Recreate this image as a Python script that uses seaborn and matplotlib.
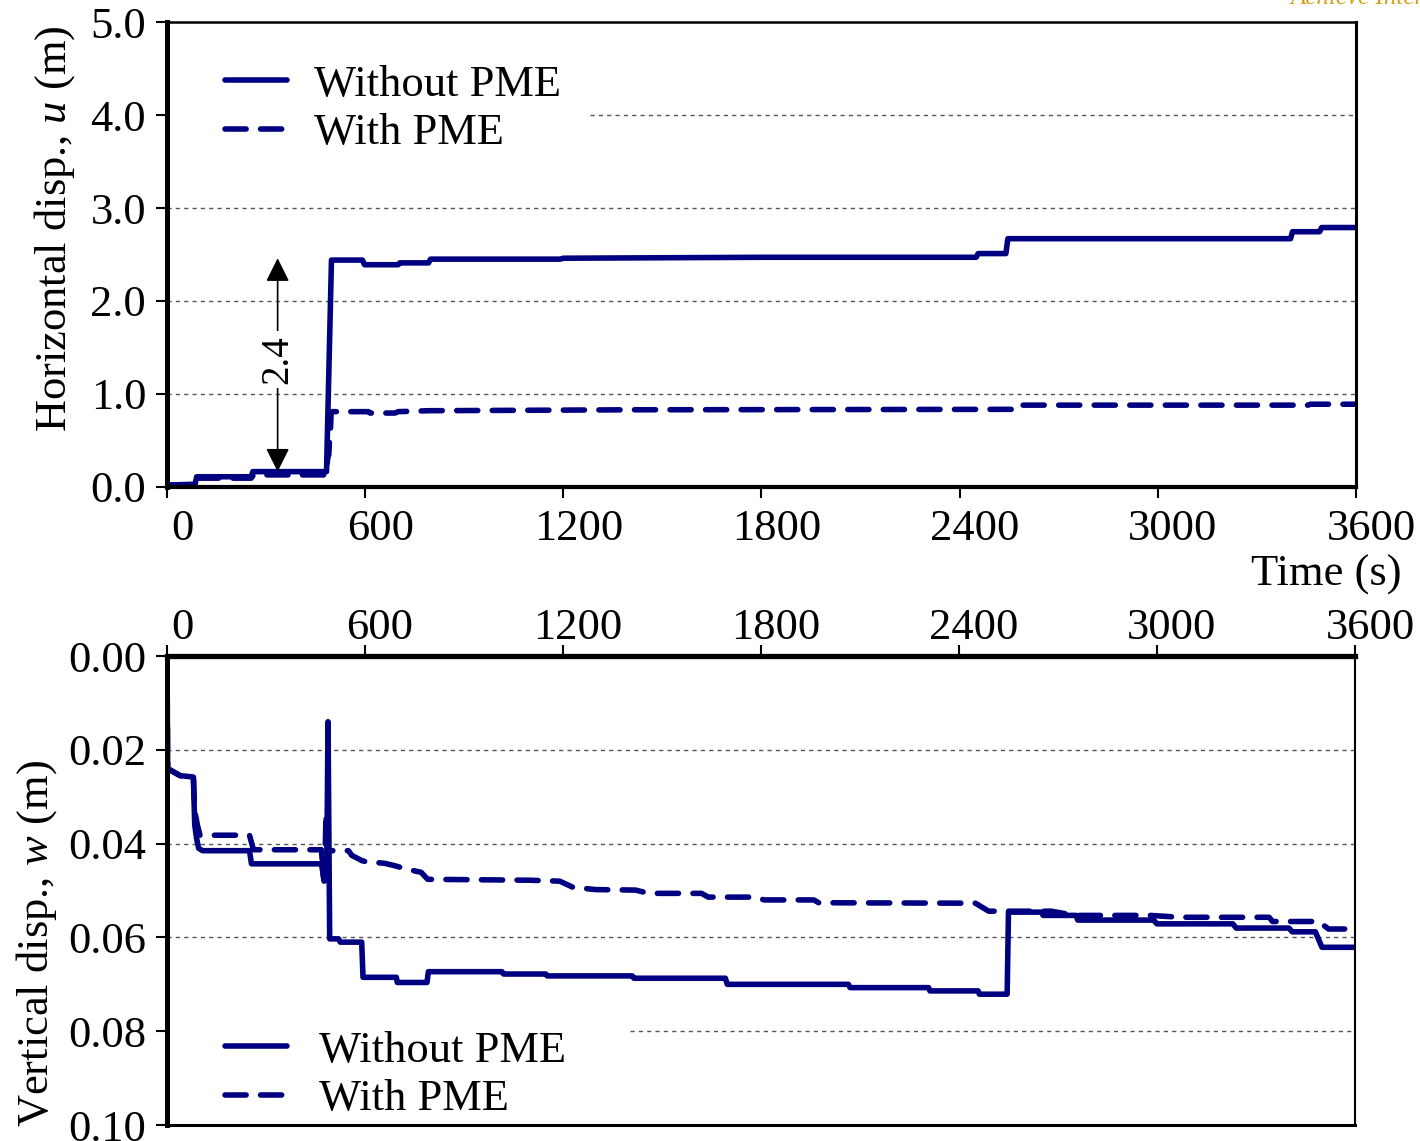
import matplotlib
matplotlib.use('Agg')
import matplotlib.pyplot as plt
from matplotlib.transforms import ScaledTranslation
import seaborn as sns

# time histories
t_u_without = [0, 85, 90, 255, 260, 483, 498, 592, 598, 700, 705, 792, 798, 1190, 1200, 1800,
               2450, 2456, 2540, 2546, 3402, 3408, 3490, 3496, 3600]
u_without = [0.02, 0.03, 0.11, 0.11, 0.165, 0.165, 2.44, 2.44, 2.39, 2.39, 2.41, 2.41, 2.45, 2.45, 2.46, 2.47,
             2.47, 2.51, 2.51, 2.67, 2.67, 2.745, 2.745, 2.79, 2.79]

t_u_with = [0, 85, 92, 255, 262, 483, 486, 490, 492, 495, 497, 500, 610, 615, 690, 700, 790, 1400,
            2560, 2567, 3455, 3462, 3600]
u_with = [0.02, 0.02, 0.095, 0.095, 0.13, 0.13, 0.3, 0.35, 0.5, 0.62, 0.8, 0.81, 0.81, 0.795, 0.795, 0.81, 0.82, 0.83,
          0.835, 0.88, 0.88, 0.89, 0.89]

t_w_without = [0, 2, 40, 80, 84, 90, 96, 108, 250, 256, 468, 472, 476, 480, 484, 488, 493, 520, 525, 590,
               594, 695, 698, 788, 792, 1015, 1020, 1148, 1152, 1410, 1415, 1692, 1698, 2065, 2070, 2308,
               2312, 2458, 2462, 2546, 2550, 2650, 2655, 2755, 2760, 2990, 3000, 3230, 3240, 3400, 3410,
               3480, 3500, 3600]
w_without = [0.0, 0.024, 0.0255, 0.0258, 0.036, 0.039, 0.041, 0.0415, 0.0415, 0.0443, 0.0443, 0.046, 0.048,
             0.043, 0.047, 0.014, 0.0603, 0.0603, 0.061, 0.061, 0.0685, 0.0685, 0.0696, 0.0696, 0.0673,
             0.0673, 0.0678, 0.0678, 0.0682, 0.0682, 0.0687, 0.0687, 0.070, 0.070, 0.0707, 0.0707, 0.0714,
             0.0714, 0.0721, 0.0721, 0.0546, 0.0546, 0.0553, 0.0553, 0.0563, 0.0563, 0.0571, 0.0571, 0.0580,
             0.0580, 0.0588, 0.0588, 0.0621, 0.0621]

t_w_with = [0, 2, 40, 80, 84, 92, 100, 250, 262, 468, 474, 478, 482, 486, 490, 550, 560, 590, 600, 660,
            690, 730, 770, 790, 1100, 1190, 1230, 1300, 1420, 1460, 1620, 1640, 1780, 1810, 1960, 1975,
            2450, 2490, 2680, 2750, 2980, 3070, 3340, 3350, 3490, 3520, 3600]
w_with = [0.0, 0.024, 0.0255, 0.0258, 0.033, 0.036, 0.0382, 0.0382, 0.0413, 0.0413, 0.047, 0.046, 0.0336,
          0.0475, 0.0415, 0.0415, 0.0425, 0.0436, 0.0438, 0.0442, 0.0447, 0.0455, 0.0461, 0.0476, 0.0478,
          0.048, 0.0493, 0.0498, 0.0499, 0.0506, 0.0506, 0.0514, 0.0514, 0.052, 0.052, 0.0526, 0.0527,
          0.0544, 0.0544, 0.0553, 0.0553, 0.0557, 0.0557, 0.0566, 0.0566, 0.0582, 0.0582]

time_ticks = [0, 600, 1200, 1800, 2400, 3000, 3600]
u_ticks = [0.0, 1.0, 2.0, 3.0, 4.0, 5.0]
w_ticks = [0.00, 0.02, 0.04, 0.06, 0.08, 0.10]
labels = ['Without PME', 'With PME']

sns.set_style('ticks')
plt.rcParams['font.family'] = ['Liberation Serif', 'DejaVu Serif']
plt.rcParams['mathtext.fontset'] = 'custom'
plt.rcParams['mathtext.rm'] = 'Liberation Serif'
plt.rcParams['mathtext.it'] = 'Liberation Serif:italic'
for k in ['text.color', 'axes.labelcolor', 'xtick.color', 'ytick.color', 'axes.edgecolor']:
    plt.rcParams[k] = 'black'

navy = '#000080'
lw = 4.0
dash = (0, (3.8, 2.6))
fs = 32

fig = plt.figure(figsize=(14.2, 11.41), dpi=100)
ax1 = fig.add_axes([0.1176, 0.5732, 0.8373, 0.4075])
ax2 = fig.add_axes([0.1176, 0.0140, 0.8366, 0.4110])


def draw_grid(ax, values, covered, start):
    for v in values:
        if v == covered:
            ax.axhline(v, xmin=start, color='#555555', lw=1.0, ls=(0, (3, 3)), zorder=0)
        else:
            ax.axhline(v, color='#555555', lw=1.0, ls=(0, (3, 3)), zorder=0)


def shift_labels(ax, dx_px):
    off = ScaledTranslation(dx_px / 100, 0, fig.dpi_scale_trans)
    for lab in ax.get_xticklabels():
        lab.set_transform(lab.get_transform() + off)


# ---- top: horizontal displacement
sns.lineplot(x=t_u_without, y=u_without, ax=ax1, color=navy, linewidth=lw, sort=False, estimator=None,
             solid_capstyle='round', label=labels[0])
sns.lineplot(x=t_u_with, y=u_with, ax=ax1, color=navy, linewidth=lw, sort=False, estimator=None,
             linestyle=dash, dash_capstyle='round', label=labels[1])
draw_grid(ax1, [1.0, 2.0, 3.0, 4.0], 4.0, (590 - 167) / 1189)
ax1.set_xlim(0, 3600)
ax1.set_ylim(0, 5)
ax1.set_xticks(time_ticks)
ax1.set_yticks(u_ticks)
ax1.set_yticklabels([f'{v:.1f}' for v in u_ticks])
ax1.tick_params(direction='out', length=8, width=1.5, labelsize=fs, pad=7, colors='black')
ax1.tick_params(axis='x', pad=8)
ax1.set_ylabel('Horizontal disp., $u$ (m)', fontsize=fs)
ax1.yaxis.set_label_coords(-0.076, 0.555)
for side, w in zip(['left', 'bottom', 'top', 'right'], [3.6, 3.0, 1.8, 2.2]):
    ax1.spines[side].set_visible(True)
    ax1.spines[side].set_linewidth(w)
    ax1.spines[side].set_color('black')
ax1.legend(loc='upper left', bbox_to_anchor=(0.049, 0.908), frameon=False, fontsize=fs,
           handlelength=1.4, handletextpad=0.6, labelspacing=0.19, borderpad=0, borderaxespad=0)
shift_labels(ax1, 15)

# 2.4 m arrow
ax1.annotate('', xy=(335, 2.46), xytext=(335, 0.165),
             arrowprops=dict(arrowstyle='<|-|>', color='black', lw=1.2, mutation_scale=36,
                             shrinkA=0, shrinkB=0))
ax1.text(335, 1.37, '2.4', rotation=90, ha='center', va='center', fontsize=28,
         bbox=dict(facecolor='white', edgecolor='none', pad=3))

fig.text(1402 / 1420, 1 - 575 / 1141, 'Time (s)', ha='right', va='center', fontsize=fs)

# ---- bottom: vertical displacement
sns.lineplot(x=t_w_without, y=w_without, ax=ax2, color=navy, linewidth=lw, sort=False, estimator=None,
             solid_capstyle='round', label=labels[0])
sns.lineplot(x=t_w_with, y=w_with, ax=ax2, color=navy, linewidth=lw, sort=False, estimator=None,
             linestyle=dash, dash_capstyle='round', label=labels[1])
draw_grid(ax2, [0.02, 0.04, 0.06, 0.08], 0.08, (630 - 167) / 1188)
ax2.set_xlim(0, 3600)
ax2.set_ylim(0.10, 0.0)
ax2.set_xticks(time_ticks)
ax2.set_yticks(w_ticks)
ax2.set_yticklabels([f'{v:.2f}' for v in w_ticks])
ax2.xaxis.tick_top()
ax2.tick_params(direction='out', length=8, width=1.5, labelsize=fs, pad=7, colors='black')
ax2.tick_params(axis='x', pad=-2)
ax2.set_xlabel('')
ax2.set_ylabel('Vertical disp., $w$ (m)', fontsize=fs)
ax2.yaxis.set_label_coords(-0.091, 0.387)
for side, w in zip(['left', 'bottom', 'top', 'right'], [3.6, 2.2, 3.8, 1.5]):
    ax2.spines[side].set_visible(True)
    ax2.spines[side].set_linewidth(w)
    ax2.spines[side].set_color('black')
ax2.legend(loc='upper left', bbox_to_anchor=(0.049, 0.201), frameon=False, fontsize=fs,
           handlelength=1.4, handletextpad=0.7, labelspacing=0.19, borderpad=0, borderaxespad=0)
shift_labels(ax2, 15)

fig.text(1290 / 1420, 1.002, 'Achieve Internationally', ha='left', va='center', fontsize=18,
         style='italic', color='#d4a017')

fig.savefig('out.png', dpi=100)
